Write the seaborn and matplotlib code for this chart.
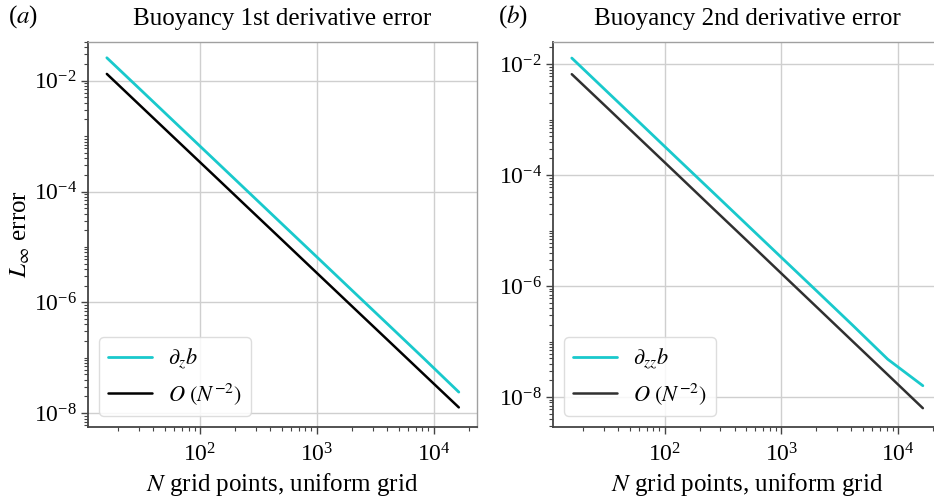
import numpy as np
import pandas as pd
import matplotlib
matplotlib.use("Agg")
import matplotlib.pyplot as plt
from matplotlib.ticker import LogLocator, NullFormatter
import seaborn as sns

# Grid sizes used in the convergence study
n_points = [16, 32, 64, 128, 256, 512, 1024, 2048, 4096, 8192, 16384]

# Max-norm error of the first derivative of buoyancy and its N^-2 reference
dz_error = [2.6e-2, 6.5e-3, 1.62e-3, 4.05e-4, 1.01e-4, 2.52e-5,
            6.3e-6, 1.57e-6, 3.93e-7, 9.8e-8, 2.4e-8]
ref_first = [1.33e-2, 3.32e-3, 8.3e-4, 2.08e-4, 5.19e-5, 1.30e-5,
             3.24e-6, 8.1e-7, 2.03e-7, 5.07e-8, 1.27e-8]

# Max-norm error of the second derivative of buoyancy and its N^-2 reference
dzz_error = [1.29e-2, 3.22e-3, 8.06e-4, 2.01e-4, 5.04e-5, 1.26e-5,
             3.15e-6, 7.9e-7, 1.97e-7, 4.8e-8, 1.6e-8]
ref_second = [6.6e-3, 1.66e-3, 4.15e-4, 1.04e-4, 2.59e-5, 6.5e-6,
              1.62e-6, 4.05e-7, 1.01e-7, 2.53e-8, 6.3e-9]

titles = ["Buoyancy 1st derivative error", "Buoyancy 2nd derivative error"]
panel_tags = ["($a$)", "($b$)"]
err_labels = [r"$\partial_z b$", r"$\partial_{zz} b$"]
ref_label = r"$O\ (N^{-2})$"

sns.set_theme(style="whitegrid")
plt.rcParams.update({
    "font.family": ["Liberation Serif", "DejaVu Serif"],
    "mathtext.fontset": "stix",
    "font.size": 18,
    "axes.titlesize": 18,
    "axes.labelsize": 18,
    "xtick.labelsize": 17,
    "ytick.labelsize": 17,
    "legend.fontsize": 16,
    "text.color": "black",
    "axes.labelcolor": "black",
    "xtick.color": "black",
    "ytick.color": "black",
    "grid.color": "#cfcfcf",
    "grid.linewidth": 1.0,
})

W, H = 934, 503
fig = plt.figure(figsize=(W / 100, H / 100), dpi=100)


def frame(left, right, top, bottom):
    return [left / W, 1 - bottom / H, (right - left) / W, (bottom - top) / H]


ax_a = fig.add_axes(frame(88, 477, 42, 427))
ax_b = fig.add_axes(frame(553, 941, 42, 427))

cyan = "#19c9cc"
panels = [
    (ax_a, dz_error, ref_first, "black", (10 ** -8.25, 10 ** -1.30)),
    (ax_b, dzz_error, ref_second, "#303030", (10 ** -8.54, 10 ** -1.60)),
]

for i, (ax, err, ref, ref_color, ylim) in enumerate(panels):
    df = pd.DataFrame({"N": n_points, "err": err, "ref": ref})
    ax.set_xscale("log")
    ax.set_yscale("log")
    sns.lineplot(data=df, x="N", y="err", ax=ax, color=cyan, linewidth=2.0,
                 label=err_labels[i])
    sns.lineplot(data=df, x="N", y="ref", ax=ax, color=ref_color, linewidth=1.8,
                 label=ref_label)

    ax.set_yticks([1e-2, 1e-4, 1e-6, 1e-8])
    ax.yaxis.set_minor_locator(LogLocator(base=10, subs=np.arange(1, 10), numticks=100))
    ax.yaxis.set_minor_formatter(NullFormatter())
    ax.set_xticks([1e2, 1e3, 1e4])
    ax.xaxis.set_minor_locator(LogLocator(base=10, subs=np.arange(1, 10), numticks=100))
    ax.xaxis.set_minor_formatter(NullFormatter())
    ax.set_ylim(*ylim)
    ax.set_xlim(10 ** 1.043, 10 ** 4.37)

    ax.grid(True, which="major")
    ax.grid(False, which="minor")
    ax.tick_params(which="both", left=True, bottom=True, direction="out",
                   color="#444444", labelcolor="black")
    ax.tick_params(which="major", length=5, width=1.0, pad=3)
    ax.tick_params(axis="x", which="major", pad=7)
    ax.tick_params(which="minor", length=3, width=0.8)

    for side in ("left", "bottom"):
        ax.spines[side].set_color("#444444")
        ax.spines[side].set_linewidth(1.3)
    for side in ("top", "right"):
        ax.spines[side].set_color("#a0a0a0")
        ax.spines[side].set_linewidth(1.0)

    ax.set_title(titles[i], pad=12, color="black")
    ax.set_xlabel(r"$N$ grid points, uniform grid", labelpad=3)
    ax.set_ylabel("")
    leg = ax.legend(loc="lower left", frameon=True, handlelength=2.0,
                    handletextpad=0.7, borderaxespad=0.5, labelspacing=0.45)
    leg.get_frame().set_edgecolor("#d8d8d8")
    leg.get_frame().set_facecolor("white")
    leg.get_frame().set_alpha(0.85)

ax_a.set_ylabel(r"$L_\infty$ error", labelpad=1)

fig.text(8 / W, 1 - 17 / H, panel_tags[0], fontsize=18, va="center", ha="left")
fig.text(498 / W, 1 - 17 / H, panel_tags[1], fontsize=18, va="center", ha="left")

fig.savefig("out.png", dpi=100)
